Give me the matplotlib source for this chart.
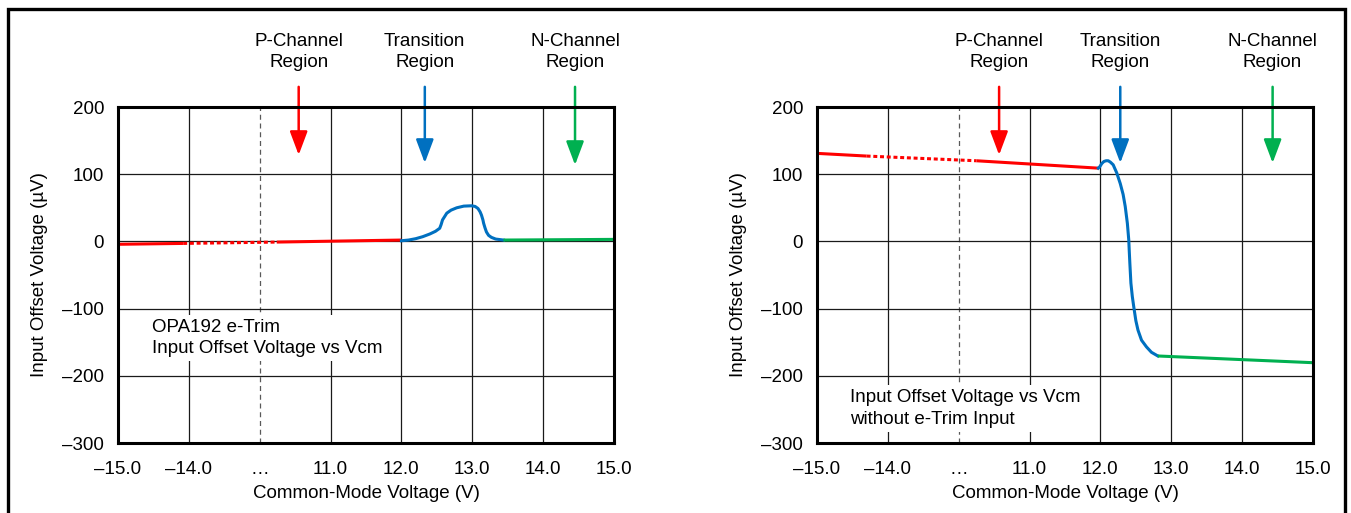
import matplotlib
matplotlib.use("Agg")
import matplotlib.pyplot as plt
from matplotlib.patches import Rectangle

plt.rcParams["font.family"] = ["Liberation Sans", "DejaVu Sans"]

# x axis is a broken scale: evenly spaced slots carrying these labels
x_labels = ["\u201315.0", "\u201314.0", "\u2026", "11.0", "12.0", "13.0", "14.0", "15.0"]
y_ticks = [200, 100, 0, -100, -200, -300]
y_tick_labels = ["200", "100", "0", "\u2013100", "\u2013200", "\u2013300"]

# left panel (e-Trim) -- positions are slot units on the broken axis
left_red_x = [0.0, 0.92, 2.24, 4.0]
left_red_y = [-4.3, -3.0, -1.0, 2.0]
left_blue_x = [4.00, 4.10, 4.20, 4.30, 4.40, 4.48, 4.54, 4.56, 4.58, 4.61, 4.64, 4.70,
               4.78, 4.88, 4.99, 5.04, 5.08, 5.11, 5.13, 5.15, 5.16, 5.18, 5.20, 5.23,
               5.27, 5.33, 5.44]
left_blue_y = [1.0, 2.0, 4.0, 7.0, 11.0, 15.0, 19.5, 25.0, 32.0, 37.0, 42.0, 46.5,
               50.0, 52.5, 53.0, 52.0, 49.0, 44.0, 39.0, 32.0, 27.0, 20.0, 14.0, 9.0,
               6.0, 3.5, 2.0]
left_green_x = [5.44, 7.0]
left_green_y = [2.0, 3.0]

# right panel (without e-Trim)
right_red_x = [0.0, 0.70, 2.25, 3.97]
right_red_y = [131.0, 127.0, 120.0, 109.0]
right_blue_x = [3.97, 3.99, 4.02, 4.05, 4.08, 4.11, 4.14, 4.18, 4.23, 4.28, 4.32, 4.35,
                4.38, 4.40, 4.405, 4.415, 4.43, 4.45, 4.47, 4.50, 4.53, 4.58, 4.65,
                4.72, 4.81]
right_blue_y = [109.0, 111.0, 116.0, 119.0, 120.0, 120.0, 118.0, 114.0, 102.0, 86.0,
                70.0, 52.0, 27.0, 2.0, -10.0, -32.0, -62.0, -82.0, -97.0, -118.0,
                -132.0, -147.0, -157.0, -165.0, -170.5]
right_green_x = [4.81, 7.0]
right_green_y = [-170.5, -180.5]

region_labels = ["P-Channel\nRegion", "Transition\nRegion", "N-Channel\nRegion"]
left_arrow_x = [2.55, 4.33, 6.45]
left_arrow_tip = [128.6, 116.7, 113.7]
right_arrow_x = [2.57, 4.28, 6.43]
right_arrow_tip = [128.6, 116.7, 116.7]

left_note = "OPA192 e-Trim\nInput Offset Voltage vs Vcm"
right_note = "Input Offset Voltage vs Vcm\nwithout e-Trim Input"

RED = "#FF0000"
BLUE = "#0070C0"
GREEN = "#00B050"
LW = 2.2
FS = 13.5


def draw_red(ax, xs, ys):
    # solid - dotted - solid, the dotted piece marks the axis break
    ax.plot(xs[:2], ys[:2], color=RED, lw=LW, solid_capstyle="butt", zorder=4)
    ax.plot(xs[1:3], ys[1:3], color=RED, lw=LW, linestyle=(0, (1.3, 0.9)), zorder=4)
    ax.plot(xs[2:], ys[2:], color=RED, lw=LW, solid_capstyle="butt", zorder=4)


def draw_panel(ax, red, blue, green, arrow_x, arrow_tip, note, note_xy):
    for p in range(1, 7):
        if p == 2:
            ax.axvline(p, color="0.35", lw=0.9, linestyle=(0, (4, 3)), zorder=1)
        else:
            ax.axvline(p, color="0.1", lw=0.9, zorder=1)
    for v in [100, 0, -100, -200]:
        ax.axhline(v, color="0.1", lw=0.9, zorder=1)

    ax.text(note_xy[0], note_xy[1], note, fontsize=FS, va="top", ha="left",
            linespacing=1.35, zorder=2,
            bbox=dict(facecolor="white", edgecolor="none", pad=3))

    draw_red(ax, *red)
    ax.plot(*blue, color=BLUE, lw=LW, zorder=4, solid_joinstyle="round")
    ax.plot(*green, color=GREEN, lw=LW, zorder=4, solid_capstyle="butt")

    for lab, xa, tip, col in zip(region_labels, arrow_x, arrow_tip, [RED, BLUE, GREEN]):
        ax.annotate("", xy=(xa, tip), xytext=(xa, 230), annotation_clip=False,
                    arrowprops=dict(arrowstyle="-|>,head_length=1.2,head_width=0.45",
                                    color=col, lw=1.8, shrinkA=0, shrinkB=0,
                                    mutation_scale=12))
        ax.text(xa, 282, lab, ha="center", va="center", fontsize=FS,
                linespacing=1.35, clip_on=False)

    ax.set_xlim(0, 7)
    ax.set_ylim(-300, 200)
    ax.set_xticks(range(len(x_labels)))
    ax.set_xticklabels(x_labels)
    ax.set_yticks(y_ticks)
    ax.set_yticklabels(y_tick_labels)
    ax.tick_params(length=0, labelsize=FS, pad=13)
    ax.tick_params(axis="y", pad=10)
    for s in ax.spines.values():
        s.set_linewidth(2.2)
        s.set_zorder(5)
    ax.set_xlabel("Common-Mode Voltage (V)", fontsize=FS, labelpad=5)
    ax.set_ylabel("Input Offset Voltage (\u00b5V)", fontsize=FS, labelpad=10)


fig = plt.figure(figsize=(13.51, 5.13), dpi=100)
ax1 = fig.add_axes([118 / 1351, 70 / 513, 496 / 1351, 336 / 513])
ax2 = fig.add_axes([817 / 1351, 70 / 513, 496 / 1351, 336 / 513])

draw_panel(ax1, (left_red_x, left_red_y), (left_blue_x, left_blue_y),
           (left_green_x, left_green_y), left_arrow_x, left_arrow_tip,
           left_note, (0.48, -115))
draw_panel(ax2, (right_red_x, right_red_y), (right_blue_x, right_blue_y),
           (right_green_x, right_green_y), right_arrow_x, right_arrow_tip,
           right_note, (0.47, -220))

# outer frame, open at the bottom edge of the picture
fig.patches.append(Rectangle((7.5 / 1351, -0.05), 1337.5 / 1351, 1.05 - 8.5 / 513,
                             transform=fig.transFigure, fill=False,
                             edgecolor="black", lw=2.4))

fig.savefig("out.png", dpi=100)
